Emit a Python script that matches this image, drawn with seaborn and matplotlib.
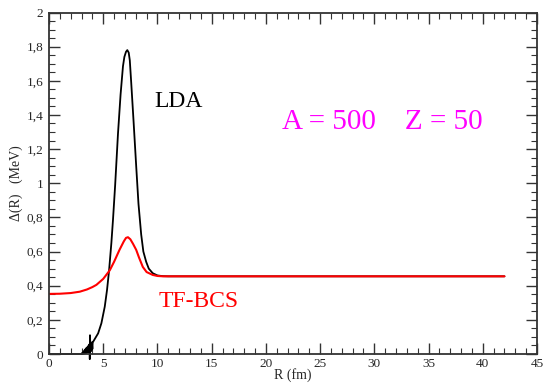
import matplotlib
matplotlib.use("Agg")
import matplotlib.pyplot as plt
from matplotlib.ticker import MultipleLocator, FuncFormatter
import seaborn as sns

# LDA pairing gap (black)
lda_r = [0, 1, 2, 3.0, 3.05, 3.1, 3.15, 3.2, 3.25, 3.3, 3.35, 3.4, 3.45, 3.5,
         3.55, 3.6, 3.65, 3.7, 3.74, 3.76, 3.78, 3.82, 3.86, 3.9, 3.95, 4.0,
         4.03, 4.07, 4.53, 4.83, 5.14, 5.35, 5.54, 5.75, 5.9, 6.1, 6.36, 6.6,
         6.82, 6.95, 7.1, 7.22, 7.35, 7.45, 7.58, 7.8, 8.04, 8.25, 8.5, 8.7,
         8.96, 9.2, 9.57, 10.0, 10.5, 11, 42]
lda_d = [0, 0, 0, 0, 0.006, 0.0, 0.012, 0.002, 0.02, 0.003, 0.028, 0.005,
         0.036, 0.008, 0.042, 0.01, 0.05, 0.012, 0.058, -0.03, 0.11, 0.015,
         0.064, 0.02, 0.068, 0.03, 0.07, 0.072, 0.121, 0.18, 0.277, 0.375,
         0.49, 0.65, 0.786, 0.99, 1.29, 1.52, 1.685, 1.74, 1.77, 1.78, 1.765,
         1.72, 1.59, 1.36, 1.10, 0.88, 0.70, 0.60, 0.54, 0.50, 0.473, 0.46,
         0.456, 0.455, 0.455]

# TF-BCS pairing gap (red)
tf_r = [0, 1, 2, 2.84, 3.5, 4.0, 4.37, 5.0, 5.6, 6.0, 6.5, 6.9, 7.1, 7.28, 7.5,
        7.75, 8.04, 8.3, 8.65, 9.0, 9.57, 10.0, 10.5, 11, 42]
tf_d = [0.352, 0.353, 0.357, 0.365, 0.378, 0.392, 0.405, 0.44, 0.49, 0.54, 0.61,
        0.66, 0.68, 0.684, 0.672, 0.645, 0.61, 0.565, 0.51, 0.48, 0.463, 0.457,
        0.455, 0.455, 0.455]

sns.set_style("ticks")
plt.rcParams["font.family"] = ["Liberation Serif", "DejaVu Serif"]

fig = plt.figure(figsize=(5.47, 3.85), dpi=100)
ax = fig.add_axes([0.0896, 0.0805, 0.8921, 0.887])

sns.lineplot(x=lda_r, y=lda_d, color="black", lw=1.3, sort=False,
             estimator=None, ax=ax, clip_on=False)
sns.lineplot(x=tf_r, y=tf_d, color="#ff0000", lw=1.5, sort=False,
             estimator=None, ax=ax)

ax.set_xlim(0, 45)
ax.set_ylim(0, 2)
ax.xaxis.set_major_locator(MultipleLocator(5))
ax.xaxis.set_minor_locator(MultipleLocator(1))
ax.yaxis.set_major_locator(MultipleLocator(0.2))
ax.yaxis.set_minor_locator(MultipleLocator(0.05))
ax.yaxis.set_major_formatter(FuncFormatter(lambda v, p: f"{v:g}".replace(".", ",")))
ax.xaxis.set_major_formatter(FuncFormatter(lambda v, p: f"{v:g}"))

ax.tick_params(which="both", direction="in", top=True, right=True,
               color="#333333", labelsize=9.5)
ax.tick_params(which="major", length=8, width=1)
ax.tick_params(which="minor", length=4, width=0.8)
ax.tick_params(axis="y", pad=4)
ax.tick_params(axis="x", pad=3)
for s in ax.spines.values():
    s.set_linewidth(1.3)
    s.set_color("#333333")

ax.set_xlabel("R (fm)", fontsize=10, labelpad=-1.5)
ax.set_ylabel("\u0394(R)   (MeV)", fontsize=10, labelpad=3)

ax.text(9.72, 1.48, "LDA", fontsize=17, color="black", va="center", ha="left")
ax.text(10.1, 0.31, "TF-BCS", fontsize=17, color="#ff0000", va="center", ha="left")
ax.text(21.5, 1.36, "A = 500    Z = 50", fontsize=21, color="#ff00ff",
        va="center", ha="left")

fig.savefig("out.png", dpi=100)
